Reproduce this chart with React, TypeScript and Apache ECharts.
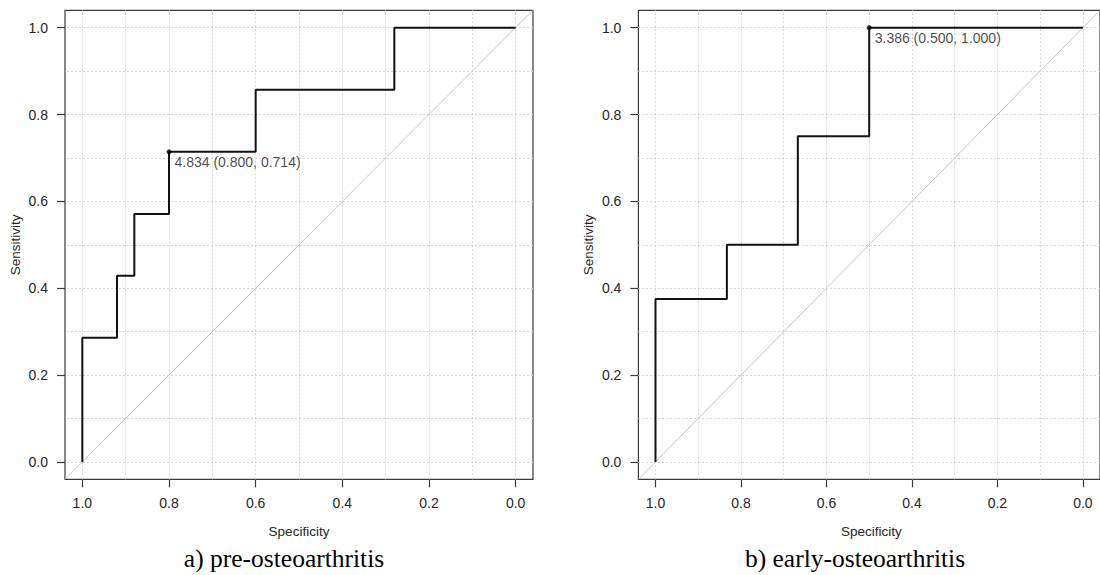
import React, { useEffect, useRef } from "react";
import * as echarts from "echarts";

// ---- data ----
const tickValues = [0, 0.2, 0.4, 0.6, 0.8, 1.0];
const gridValues = [0, 0.1, 0.2, 0.3, 0.4, 0.5, 0.6, 0.7, 0.8, 0.9, 1.0];
const axisMin = -0.04;
const axisMax = 1.04;

const preSpec = [1, 1, 0.92, 0.92, 0.88, 0.88, 0.8, 0.8, 0.6, 0.6, 0.28, 0.28, 0];
const preSens = [0, 0.286, 0.286, 0.429, 0.429, 0.571, 0.571, 0.714, 0.714, 0.857, 0.857, 1, 1];
const earlySpec = [1, 1, 0.833, 0.833, 0.667, 0.667, 0.5, 0.5, 0];
const earlySens = [0, 0.375, 0.375, 0.5, 0.5, 0.75, 0.75, 1, 1];

const bestThreshold = [4.834, 3.386];
const bestSpec = [0.8, 0.5];
const bestSens = [0.714, 1.0];

const captions = ["a) pre-osteoarthritis", "b) early-osteoarthritis"];
const xTitle = "Specificity";
const yTitle = "Sensitivity";

// ---- layout / style ----
const boxes = [
  { left: 65, top: 10.3, width: 468, height: 469, capX: 284 },
  { left: 638.4, top: 10.3, width: 466, height: 469, capX: 855 },
];
const SANS = "'Liberation Sans', Arial, Helvetica, sans-serif";
const SERIF = "'Liberation Serif', 'Times New Roman', serif";
const AX = "#3a3a3a";
const TXT = "#262626";
const FS = 14;

export default function App() {
  const ref = useRef<HTMLDivElement>(null);

  useEffect(() => {
    if (!ref.current) return;
    const chart = echarts.init(ref.current, undefined, { renderer: "svg" });

    const rocs = [
      preSpec.map((s, i) => [s, preSens[i]]),
      earlySpec.map((s, i) => [s, earlySens[i]]),
    ];

    const grid = boxes.map((b) => ({
      left: b.left,
      top: b.top,
      width: b.width,
      height: b.height,
      show: true,
      borderColor: AX,
      borderWidth: 1.2,
      backgroundColor: "transparent",
      containLabel: false,
    }));

    const axisCommon = {
      type: "value" as const,
      min: axisMin,
      max: axisMax,
      axisLine: { show: false, onZero: false },
      splitLine: { show: false },
      axisTick: {
        show: true,
        inside: false,
        customValues: tickValues,
        length: 8,
        lineStyle: { color: AX, width: 1.2 },
      },
      axisLabel: {
        customValues: tickValues,
        formatter: (v: number) => v.toFixed(1),
        fontSize: FS,
        fontFamily: SANS,
        color: TXT,
      },
    };

    const xAxis = boxes.map((_, i) => ({
      ...axisCommon,
      gridIndex: i,
      inverse: true,
      position: "bottom",
      axisLabel: { ...axisCommon.axisLabel, margin: 17 },
    }));
    const yAxis = boxes.map((_, i) => ({
      ...axisCommon,
      gridIndex: i,
      position: "left",
      axisLabel: { ...axisCommon.axisLabel, margin: 17 },
    }));

    const series: any[] = [];
    boxes.forEach((_, i) => {
      series.push({
        type: "line",
        xAxisIndex: i,
        yAxisIndex: i,
        data: [
          [axisMax, axisMin],
          [axisMin, axisMax],
        ],
        symbol: "none",
        silent: true,
        lineStyle: { color: "#c6c6c6", width: 1 },
        z: 2,
        markLine: {
          silent: true,
          symbol: ["none", "none"],
          label: { show: false },
          lineStyle: { color: "#d6d6d6", width: 1, type: [2, 2] },
          emphasis: { disabled: true },
          data: [
            ...gridValues.map((v) => ({ xAxis: v })),
            ...gridValues.map((v) => ({ yAxis: v })),
          ],
          z: 1,
        },
      });
      series.push({
        type: "line",
        xAxisIndex: i,
        yAxisIndex: i,
        data: rocs[i],
        symbol: "none",
        silent: true,
        lineStyle: { color: "#111111", width: 2 },
        z: 3,
      });
      series.push({
        type: "scatter",
        xAxisIndex: i,
        yAxisIndex: i,
        data: [[bestSpec[i], bestSens[i]]],
        symbolSize: 5,
        silent: true,
        itemStyle: { color: "#000" },
        label: {
          show: true,
          position: "right",
          distance: 3,
          offset: [0, 10],
          formatter: () =>
            `${bestThreshold[i].toFixed(3)} (${bestSpec[i].toFixed(3)}, ${bestSens[i].toFixed(3)})`,
          fontSize: FS,
          fontFamily: SANS,
          color: "#1a1a1a",
        },
        z: 4,
      });
    });

    const graphic: any[] = [];
    boxes.forEach((b, i) => {
      graphic.push({
        type: "text",
        x: b.left - 49.5,
        y: b.top + b.height / 2,
        rotation: Math.PI / 2,
        style: {
          text: yTitle,
          fontSize: 13.5,
          fontFamily: SANS,
          fill: TXT,
          align: "center",
          verticalAlign: "middle",
        },
      });
      graphic.push({
        type: "text",
        x: b.left + b.width / 2,
        y: 531,
        style: {
          text: xTitle,
          fontSize: 13.5,
          fontFamily: SANS,
          fill: TXT,
          align: "center",
          verticalAlign: "middle",
        },
      });
      graphic.push({
        type: "text",
        x: b.capX,
        y: 558,
        style: {
          text: captions[i],
          fontSize: 25.5,
          fontFamily: SERIF,
          fill: "#000",
          align: "center",
          verticalAlign: "middle",
        },
      });
    });

    chart.setOption({
      animation: false,
      backgroundColor: "#ffffff",
      grid,
      xAxis,
      yAxis,
      series,
      graphic,
    });

    return () => chart.dispose();
  }, []);

  return (
    <div
      ref={ref}
      style={{ position: "absolute", left: 0, top: 0, width: 1100, height: 575 }}
    />
  );
}
